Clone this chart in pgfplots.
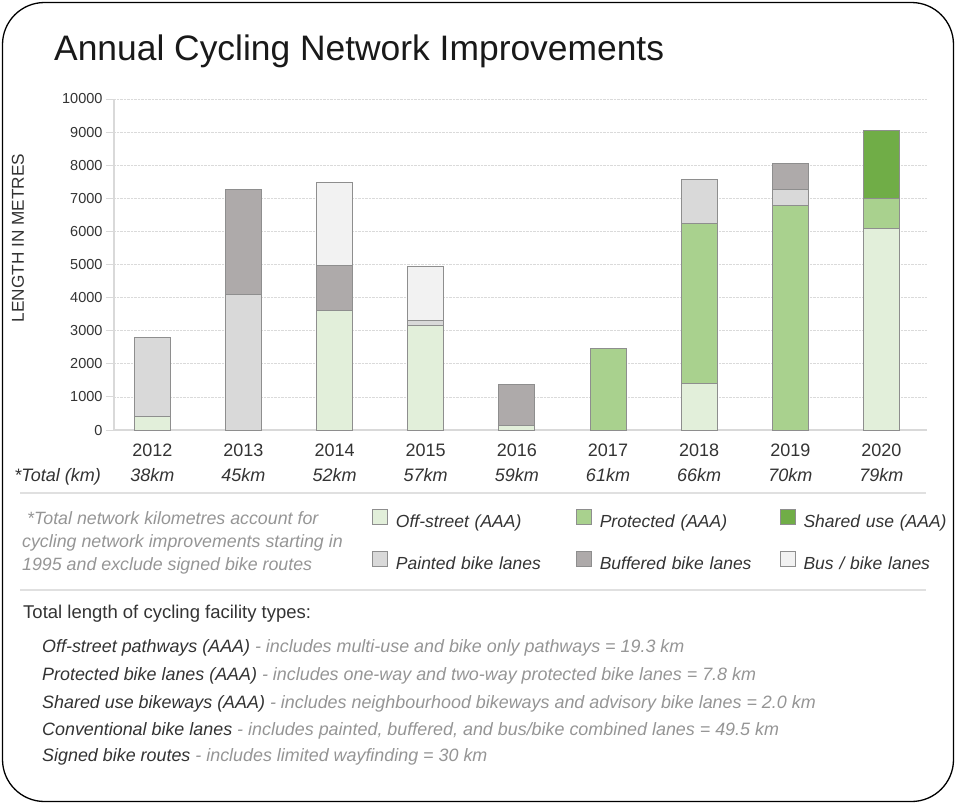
\documentclass[border=0pt]{standalone}
\usepackage{pgfplots}
\pgfplotsset{compat=1.18}
\usepackage{fontspec}
\setmainfont{Liberation Sans}

\definecolor{offst}{HTML}{E2EFDA}
\definecolor{prot}{HTML}{A9D18E}
\definecolor{shared}{HTML}{70AD47}
\definecolor{painted}{HTML}{D9D9D9}
\definecolor{buffered}{HTML}{AEAAAA}
\definecolor{bus}{HTML}{F2F2F2}
\definecolor{edgec}{HTML}{8E8E8E}
\definecolor{axisc}{HTML}{D9D9D9}
\definecolor{gridc}{HTML}{DADADA}
\definecolor{tickc}{HTML}{333333}
\definecolor{notec}{HTML}{959595}
\definecolor{rulec}{HTML}{E0E0E0}

\pgfplotsset{
  bars/.style={draw=edgec, line width=1pt,
    legend image code/.code={\draw[##1, line width=0.8pt] (0pt,-1.5pt) rectangle (15pt,13.5pt);}},
}

\begin{document}
\begin{tikzpicture}[x=1pt,y=-1pt]
\useasboundingbox (0,0) rectangle (956,804);
\draw[line width=1.3pt, rounded corners=42pt] (2.5,2.5) rectangle (953.5,801.5);

\node[anchor=base west, inner sep=0, text=black!90,
  font=\fontsize{35.4}{40}\selectfont] at (54,60) {Annual Cycling Network Improvements};

\node[rotate=90, inner sep=0, text=tickc, font=\fontsize{17.2}{19}\selectfont]
  at (18,238) {LENGTH IN METRES};

\begin{axis}[
  at={(114pt,-430pt)}, anchor=south west,
  scale only axis, width=813pt, height=331pt,
  ybar stacked, bar width=36pt,
  xmin=-0.42, xmax=8.5, ymin=0, ymax=10000,
  axis x line*=bottom, axis y line*=left,
  axis line style={draw=axisc, line width=1.2pt, -},
  ytick={0,1000,...,10000},
  ymajorgrids, grid style={densely dotted, gridc, line width=0.8pt},
  major tick length=8pt, tick align=outside,
  ytick style={draw=axisc, line width=1pt},
  xtick={0,...,8}, xtick style={draw=none},
  xticklabels={{2012\\\textit{38km}},{2013\\\textit{45km}},{2014\\\textit{52km}},
    {2015\\\textit{57km}},{2016\\\textit{59km}},{2017\\\textit{61km}},
    {2018\\\textit{66km}},{2019\\\textit{70km}},{2020\\\textit{79km}}},
  xticklabel style={font=\fontsize{18}{25}\selectfont, align=center, text=tickc,
    inner sep=0pt, yshift=-6pt},
  yticklabel style={font=\fontsize{14.5}{16}\selectfont, text=tickc},
  /pgf/number format/.cd, 1000 sep={}, assume math mode=true,
  /pgfplots/.cd,
  scaled y ticks=false,
  legend columns=3,
  legend style={at={(0.3173,-0.2387)}, anchor=north west, draw=none, fill=none,
    inner sep=0pt, font=\fontsize{17.5}{20}\selectfont\itshape, text=tickc,
    row sep=20pt,
    nodes={inner sep=0pt, text width=167pt, text height=12pt, text depth=4pt},
    /tikz/every odd column/.append style={column sep=8pt},
    /tikz/every even column/.append style={column sep=13pt}},
  clip=false,
]
\addplot[bars, fill=offst] coordinates {(0,400) (1,0) (2,3600) (3,3170) (4,130) (5,0) (6,1420) (7,0) (8,6090)};
\addplot[bars, fill=prot] coordinates {(0,0) (1,0) (2,0) (3,0) (4,0) (5,2450) (6,4810) (7,6770) (8,910)};
\addplot[bars, fill=shared] coordinates {(0,0) (1,0) (2,0) (3,0) (4,0) (5,0) (6,0) (7,0) (8,2050)};
\addplot[bars, fill=painted] coordinates {(0,2400) (1,4100) (2,0) (3,150) (4,0) (5,0) (6,1350) (7,500) (8,0)};
\addplot[bars, fill=buffered] coordinates {(0,0) (1,3180) (2,1380) (3,0) (4,1250) (5,0) (6,0) (7,770) (8,0)};
\addplot[bars, fill=bus] coordinates {(0,0) (1,0) (2,2490) (3,1610) (4,0) (5,0) (6,0) (7,0) (8,0)};
\legend{Off-street (AAA), Protected (AAA), Shared use (AAA),
  Painted bike lanes, Buffered bike lanes, Bus / bike lanes}
\end{axis}

\node[anchor=base east, inner sep=0, text=tickc, font=\fontsize{18}{20}\selectfont\itshape]
  at (101,481) {*Total (km)};

\draw[rulec, line width=1.5pt] (20,493) -- (926,493);
\draw[rulec, line width=1.5pt] (20,590) -- (926,590);

\begin{scope}[every node/.style={anchor=base west, inner sep=0, text=notec,
    font=\fontsize{17.8}{20}\selectfont\itshape}]
\node at (27,524) {*Total network kilometres account for};
\node at (22,547) {cycling network improvements starting in};
\node at (22,570) {1995 and exclude signed bike routes};
\end{scope}

\node[anchor=base west, inner sep=0, text=tickc, font=\fontsize{18.5}{20}\selectfont]
  at (23,618) {Total length of cycling facility types:};

\begin{scope}[every node/.style={anchor=base west, inner sep=0, text=tickc,
    font=\fontsize{17.9}{20}\selectfont\itshape}]
\node at (42,652) {Off-street pathways (AAA) \textcolor{notec}{- includes multi-use and bike only pathways = 19.3 km}};
\node at (42,680) {Protected bike lanes (AAA) \textcolor{notec}{- includes one-way and two-way protected bike lanes = 7.8 km}};
\node at (42,708) {Shared use bikeways (AAA) \textcolor{notec}{- includes neighbourhood bikeways and advisory bike lanes = 2.0 km}};
\node at (42,735) {Conventional bike lanes \textcolor{notec}{- includes painted, buffered, and bus/bike combined lanes = 49.5 km}};
\node at (42,761) {Signed bike routes \textcolor{notec}{- includes limited wayfinding = 30 km}};
\end{scope}
\end{tikzpicture}
\end{document}
